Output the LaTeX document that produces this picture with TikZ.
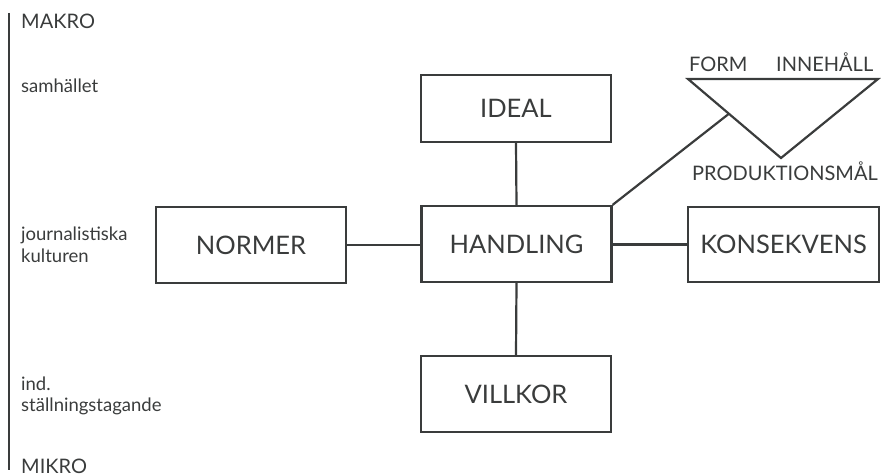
\documentclass[tikz,border=0pt]{standalone}
\usepackage{fontspec}
\setmainfont{Lato}
\usetikzlibrary{calc}
\definecolor{ink}{HTML}{3A3C3C}
\begin{document}
\begin{tikzpicture}[x=1pt,y=-1pt,
  box/.style={draw=ink,line width=2.2pt,minimum width=190pt,inner sep=0pt,font=\fontsize{25.5}{28}\selectfont,text=ink},
  conn/.style={draw=ink,line width=2.2pt},
  lbl/.style={anchor=base west,inner sep=0pt,text=ink,font=\fontsize{18.5}{22}\selectfont},
  caplbl/.style={anchor=base west,inner sep=0pt,text=ink,font=\fontsize{20}{22}\selectfont}]
\useasboundingbox (0,0) rectangle (881,476);
% left scale
\coordinate (top) at (9,13);
\coordinate (bot) at (9,470);
\draw[conn] (top) -- (bot);
\node[caplbl] (makro) at (21,29) {MAKRO};
\node[lbl] (samh) at (21,93) {samhället};
\node[lbl] (jour) at (21,240) {journalistiska};
\node[lbl] (kult) at (21,262) {kulturen};
\node[lbl] (ind) at (21,390) {ind.};
\node[lbl] (stal) at (21,411) {ställningstagande};
\node[caplbl] (mikro) at (21,473) {MIKRO};
% boxes
\node[box,minimum height=67pt] (ideal) at (516,108.5) {IDEAL};
\node[box,minimum height=76pt] (hand) at (516.5,244) {HANDLING};
\node[box,minimum height=76pt] (vill) at (516,394) {VILLKOR};
\node[box,minimum height=76pt] (norm) at (251,245) {NORMER};
\node[box,minimum height=75pt,minimum width=191pt] (kons) at (783.5,244.5) {KONSEKVENS};
% triangle
\coordinate (tl) at (688,79);
\coordinate (tr) at (878,79);
\coordinate (tb) at (781,158);
\draw[conn,line join=miter] (tl) -- (tr) -- (tb) -- cycle;
\coordinate (tp) at ($(tl)!0.44!(tb)$);
\node[caplbl] (form) at (689,72) {FORM};
\node[caplbl] (inne) at (776,72) {INNEHÅLL};
\node[caplbl] (prod) at (692,181) {PRODUKTIONSMÅL};
% connectors
\draw[conn] (ideal.south) -- (hand.north);
\draw[conn] (hand.south) -- (vill.north);
\draw[conn] (norm.east) -- (norm.east -| hand.west);
\draw[conn] (hand.east |- kons.west) -- (kons.west);
\draw[conn] (hand.north east) -- (tp);
\end{tikzpicture}
\end{document}
